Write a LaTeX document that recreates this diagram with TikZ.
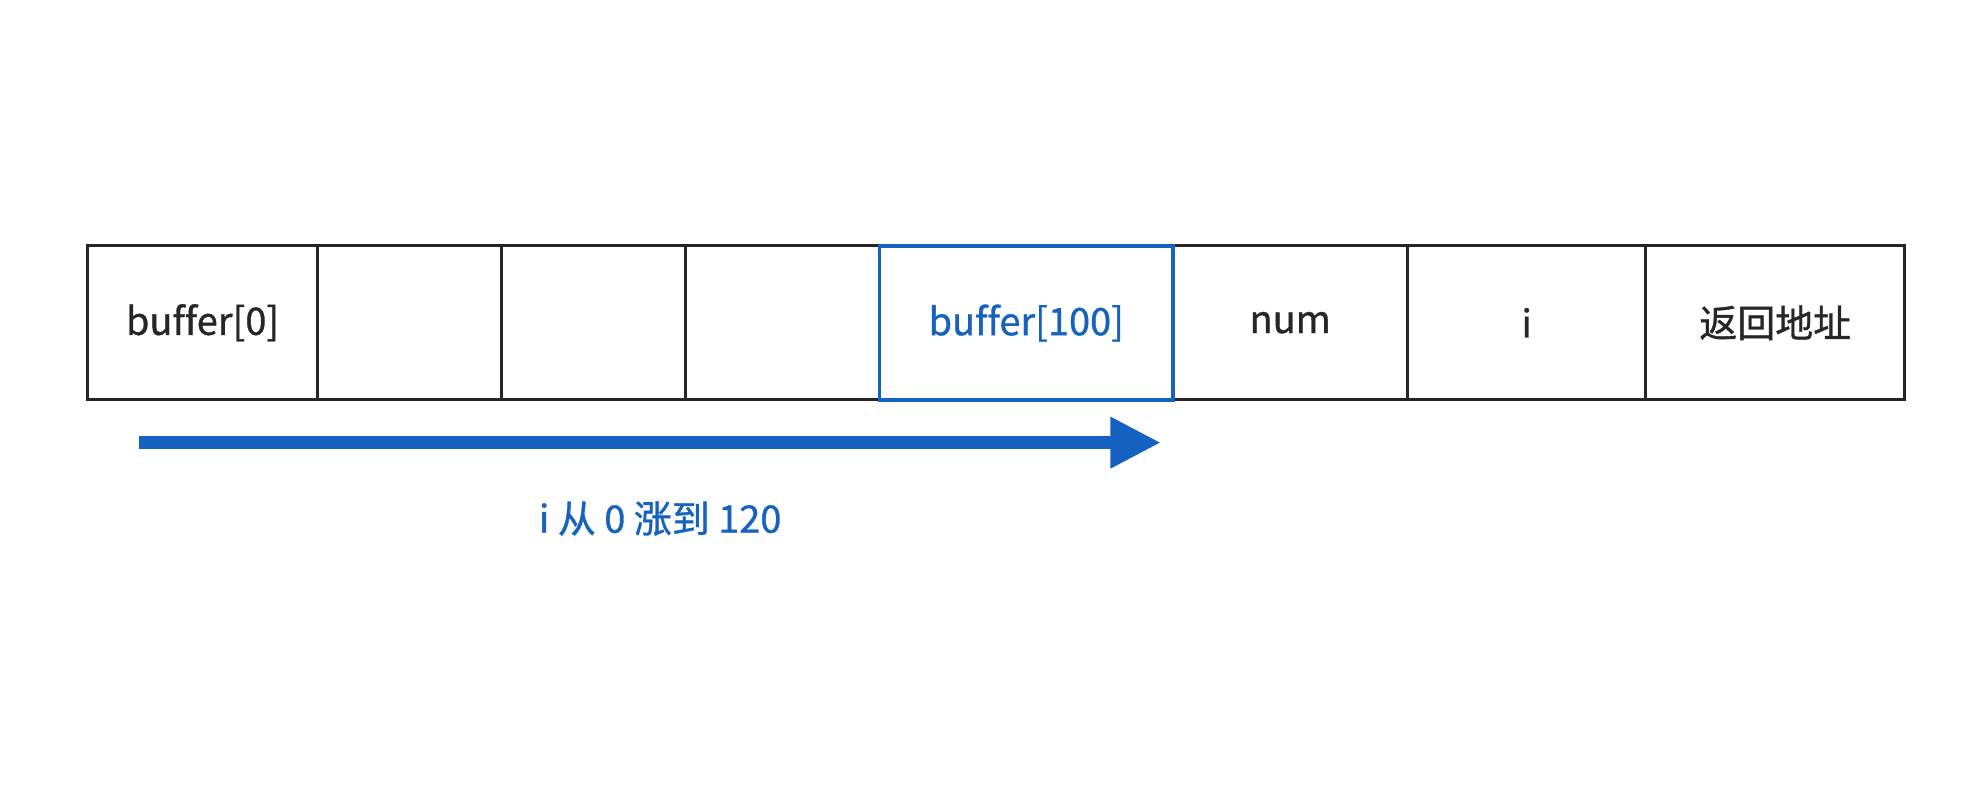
\documentclass[tikz,border=0pt]{standalone}
\usepackage{fontspec}
\setmainfont{Noto Sans CJK SC}[Ligatures=NoCommon,AutoFakeBold=0.9]
\usepackage{xcolor}
\usetikzlibrary{arrows.meta}
\definecolor{stackblue}{HTML}{1562C0}
\tikzset{
	cell/.style={draw=black!85,line width=2.4pt,anchor=north west,inner sep=0pt},
	lbl/.style={font=\fontsize{30}{34}\selectfont\bfseries,text=black!85},
}
\begin{document}
\begin{tikzpicture}[x=1pt,y=-1pt]
	\useasboundingbox (0,0) rectangle (1568,628);
	\fill[white] (0,0) rectangle (1568,628);

	% stack frame cells
	\foreach \a/\b/\t [count=\k] in {68/250/buffer[0], 250/395/, 395/541/, 541/694/, 926/1112/num, 1112/1300/i, 1300/1505/返回地址}{
		\node[cell,minimum width=\b-\a,minimum height=122] (c\k) at (\a,193) {};
		\node[lbl] (t\k) at (c\k.center) {\t};
	}
	\node[cell,draw=stackblue,line width=3pt,minimum width=232,minimum height=122] (buf) at (694,193) {};
	\node[lbl,text=stackblue] (tbuf) at (buf.center) {buffer[100]};

	% overflow direction
	\coordinate (s) at (110,350);
	\coordinate (e) at (918,350);
	\draw[stackblue,line width=10pt,-{Triangle[length=40pt,width=38pt]}] (s) -- (e);
	\node[lbl,text=stackblue] (note) at (522,410) {i 从 0 涨到 120};
\end{tikzpicture}
\end{document}
